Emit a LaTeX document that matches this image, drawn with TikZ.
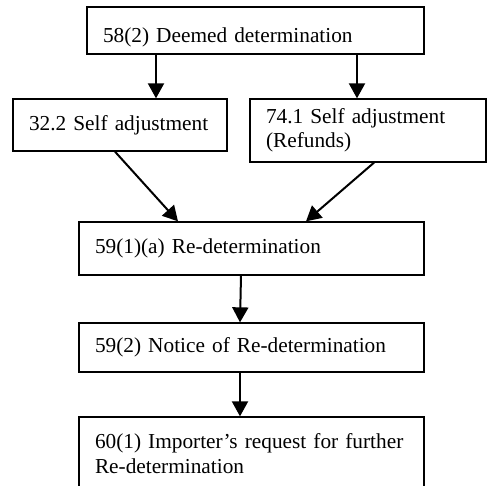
\documentclass[tikz,border=0pt]{standalone}
\usepackage{fontspec}
\setmainfont{Liberation Serif}
\usetikzlibrary{arrows.meta}

\begin{document}
\begin{tikzpicture}[
	x=1pt, y=-1pt,
	box/.style={
		rectangle,
		draw=black,
		line width=1.3pt,
		align=left,
		inner xsep=16pt,
		inner ysep=0pt,
		font=\fontsize{21.3pt}{24.5pt}\selectfont
	},
	arr/.style={
		line width=2pt,
		-{Triangle[width=16pt,length=15pt]}
	},
]

\clip (0,0) rectangle (487,486);

\node[box, text width=305pt, minimum height=47pt, text height=36pt, text depth=11pt] (deemed) at (255.5,30.5) {58(2) Deemed determination};

\node[box, text width=182pt, minimum height=52pt] (self_adj) at (120,125) {32.2 Self adjustment};
\node[box, text width=204pt, minimum height=63pt] (refunds) at (368,130.5) {74.1 Self adjustment\\(Refunds)};

\node[box, text width=313pt, minimum height=53pt] (redet) at (251.5,248.5) {59(1)(a) Re-determination};
\node[box, text width=313pt, minimum height=49pt] (notice) at (251.5,347.5) {59(2) Notice of Re-determination};
\node[box, text width=313pt, minimum height=73pt] (request) at (251.5,453.5) {60(1) Importer’s request for further\\Re-determination};

\draw[arr] ([xshift=36pt]self_adj.north |- deemed.south) -- ([xshift=36pt]self_adj.north);
\draw[arr] ([xshift=-11pt]refunds.north |- deemed.south) -- ([xshift=-11pt]refunds.north);

\draw[arr] ([xshift=-5pt]self_adj.south) -- ([xshift=-73.5pt]redet.north);
\draw[arr] ([xshift=6pt]refunds.south) -- ([xshift=54.5pt]redet.north);

\draw[arr] ([xshift=-10.5pt]redet.south) -- ([xshift=-11.5pt]notice.north);
\draw[arr] ([xshift=-11.5pt]notice.south) -- ([xshift=-11.5pt]request.north);

\end{tikzpicture}
\end{document}
